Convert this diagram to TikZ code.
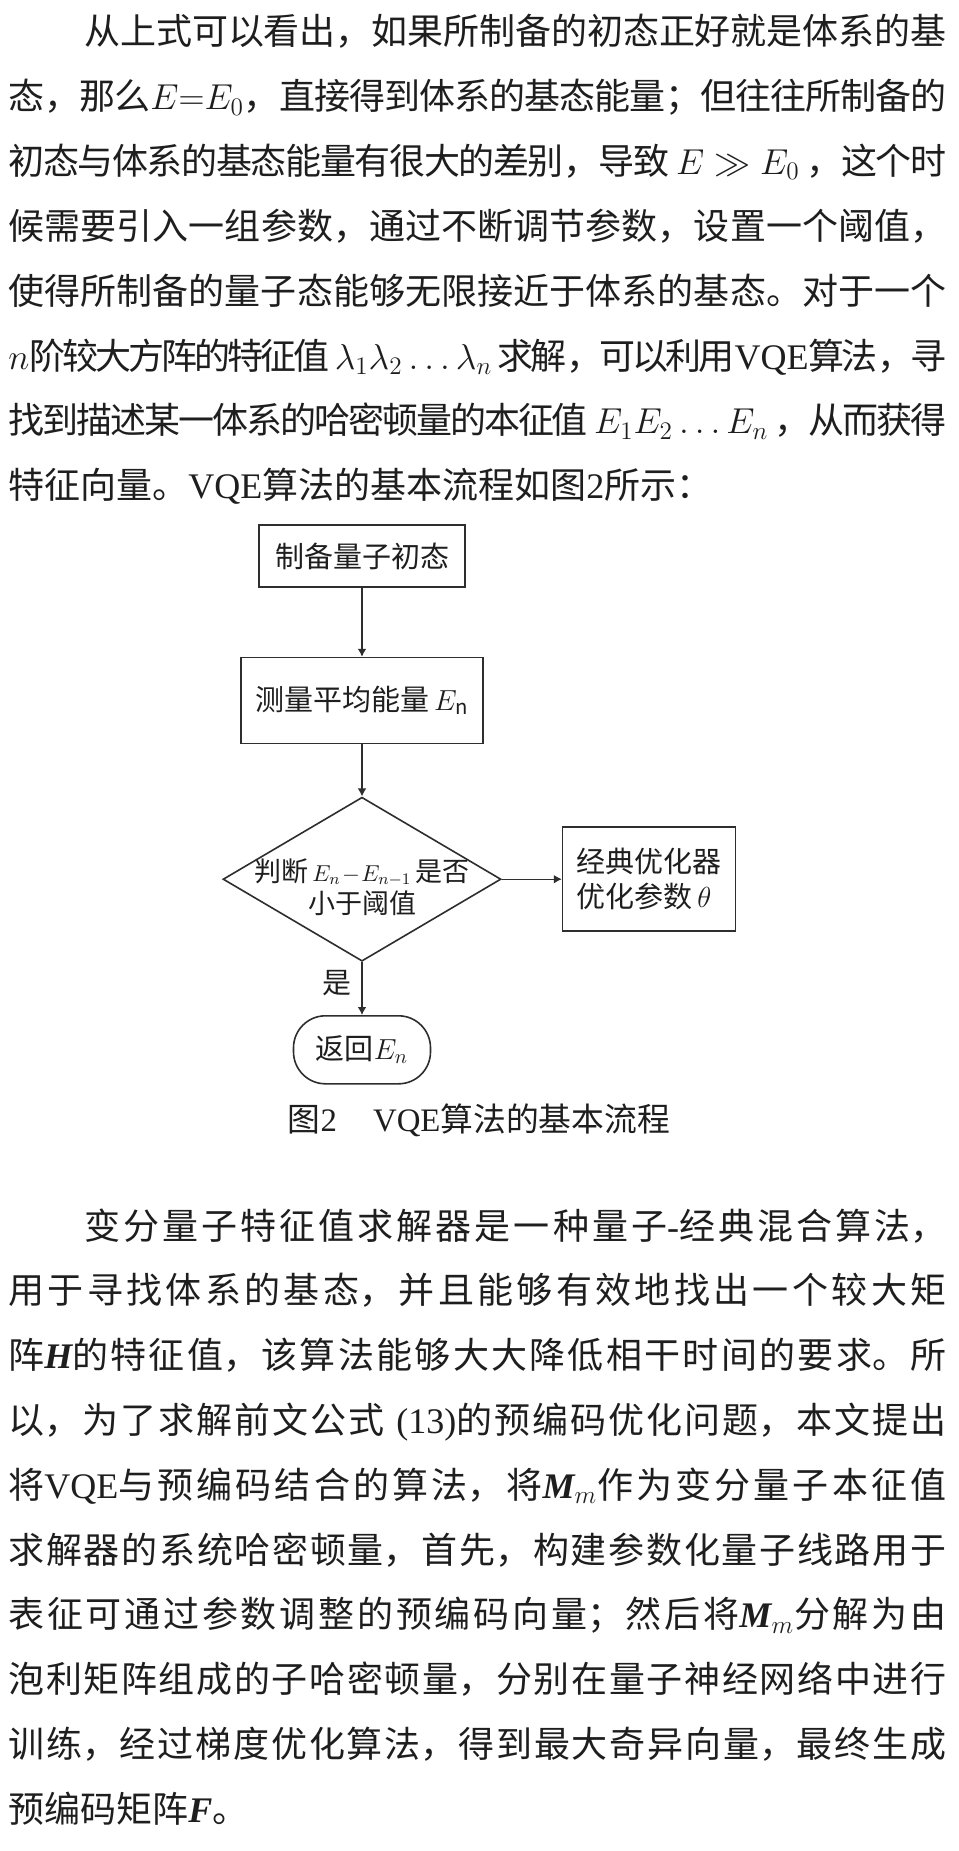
\documentclass[tikz,border=0pt]{standalone}
\usepackage{fix-cm}
\usepackage{fontspec}
\setmainfont{Noto Sans CJK SC}
\newfontfamily\lat{Liberation Serif}
\usepackage{tikz}
\usetikzlibrary{positioning, shapes.geometric, arrows.meta}
\XeTeXlinebreaklocale "zh"
\XeTeXlinebreakskip=0pt plus 1pt minus 1.5pt
\definecolor{inkColor}{HTML}{1E1E1E}
\definecolor{lineColor}{HTML}{2E2E2E}
\newcommand\fullline[1]{\parbox[t]{469pt}{\parfillskip=0pt \tolerance=10000 \XeTeXlinebreakpenalty=10000 \relpenalty=10000 \binoppenalty=10000 \noindent #1}}
\newcommand\lastline[1]{\parbox[t]{469pt}{\XeTeXlinebreakpenalty=10000 \noindent #1}}
\newcommand\bmit[1]{{\lat\bfseries\itshape #1}}

\begin{document}
\begin{tikzpicture}[
  x=0.5pt, y=-0.5pt,
  node distance=15pt,
  txtln/.style={
    inner sep=0pt,
    text height=13pt,
    text depth=4pt,
    text=inkColor,
    font=\fontsize{18}{20}\selectfont
  },
  procbox/.style={
    rectangle,
    draw=lineColor,
    line width=0.8pt,
    inner sep=3pt,
    text=inkColor,
    font=\fontsize{14.5}{17.5}\selectfont
  },
  decbox/.style={
    diamond,
    draw=lineColor,
    line width=0.8pt,
    inner sep=0pt,
    minimum width=139pt,
    minimum height=82pt,
    text height=20pt,
    text depth=18pt,
    text=inkColor,
    font=\fontsize{13.5}{16}\selectfont
  },
  retbox/.style={
    rectangle,
    rounded corners=16pt,
    draw=lineColor,
    line width=0.8pt,
    minimum width=68.5pt,
    minimum height=34pt,
    text=inkColor,
    font=\fontsize{14.5}{17.5}\selectfont
  },
  capt/.style={
    inner sep=0pt,
    text=inkColor,
    font=\fontsize{16.4}{18}\selectfont
  },
  arrow/.style={
    -{Latex[length=4pt, width=4.4pt]},
    draw=lineColor,
    line width=0.7pt
  }
]
  \fill[white] (0,0) rectangle (958,1851);
  \useasboundingbox (0,0) rectangle (958,1851);

  % First paragraph
  \node[txtln, anchor=base west] (pa) at (8,45) {\fullline{\hspace{38pt}从上式可以看出，如果所制备的初态正好就是体系的基}};
  \node[txtln, below=of pa] (pb) {\fullline{态，那么$E{=}E_0$，直接得到体系的基态能量；但往往所制备的}};
  \node[txtln, below=of pb] (pc) {\fullline{初态与体系的基态能量有很大的差别，导致~$E\gg E_0$~，这个时}};
  \node[txtln, below=of pc] (pd) {\fullline{候需要引入一组参数，通过不断调节参数，设置一个阈值，}};
  \node[txtln, below=of pd] (pe) {\fullline{使得所制备的量子态能够无限接近于体系的基态。对于一个}};
  \node[txtln, below=of pe] (pf) {\fullline{$n$阶较大方阵的特征值~$\lambda_1\lambda_2\ldots\lambda_n$~求解，可以利用{\lat VQE}算法，寻}};
  \node[txtln, below=of pf] (pg) {\fullline{找到描述某一体系的哈密顿量的本征值~$E_1E_2\ldots E_n$~，从而获得}};
  \node[txtln, below=of pg] (ph) {\lastline{特征向量。{\lat VQE}算法的基本流程如图{\lat 2}所示：}};

  % Flow chart
  \node[procbox, minimum width=103pt, minimum height=31pt] (prep) at (362,556) {制备量子初态};
  \node[procbox, minimum width=121pt, minimum height=43pt, below=34.5pt of prep] (meas) {测量平均能量$\,E_{\mathrm{n}}$};
  \node[decbox, below=26pt of meas] (judge) {\makebox[0pt]{\parbox[t]{150pt}{\centering 判断\hspace{2pt}{\fontsize{11.5}{12}\selectfont$E_n\!-\!E_{n-1}$}\hspace{2pt}是否\\小于阈值}}};
  \node[procbox, align=left, minimum width=86.5pt, minimum height=52pt, right=30pt of judge] (optim) {经典优化器\\优化参数$\,\theta$};
  \node[retbox, below=26.5pt of judge] (ret) {返回$E_n$};
  \node[capt] (cap) at (479,1120) {图{\lat 2}\hspace{18pt}{\lat VQE}算法的基本流程};

  % Connect nodes with arrows
  \draw[arrow] (prep) -- (meas);
  \draw[arrow] (meas) -- (judge);
  \draw[arrow] (judge) -- (optim);
  \draw[arrow] (judge) -- node[left=1pt, pos=0.4, inner sep=4pt, text=inkColor, font=\fontsize{14.5}{17}\selectfont] (yes) {是} (ret);

  % Second paragraph
  \node[txtln, anchor=base west] (qa) at (8,1239) {\fullline{\hspace{38pt}变分量子特征值求解器是一种量子{\lat -}经典混合算法，}};
  \node[txtln, below=of qa] (qb) {\fullline{用于寻找体系的基态，并且能够有效地找出一个较大矩}};
  \node[txtln, below=of qb] (qc) {\fullline{阵\bmit{H}的特征值，该算法能够大大降低相干时间的要求。所}};
  \node[txtln, below=of qc] (qd) {\fullline{以，为了求解前文公式~{\lat (13)}的预编码优化问题，本文提出}};
  \node[txtln, below=of qd] (qe) {\fullline{将{\lat VQE}与预编码结合的算法，将\bmit{M}$_m$作为变分量子本征值}};
  \node[txtln, below=of qe] (qf) {\fullline{求解器的系统哈密顿量，首先，构建参数化量子线路用于}};
  \node[txtln, below=of qf] (qg) {\fullline{表征可通过参数调整的预编码向量；然后将\bmit{M}$_m$分解为由}};
  \node[txtln, below=of qg] (qh) {\fullline{泡利矩阵组成的子哈密顿量，分别在量子神经网络中进行}};
  \node[txtln, below=of qh] (qi) {\fullline{训练，经过梯度优化算法，得到最大奇异向量，最终生成}};
  \node[txtln, below=of qi] (qj) {\lastline{预编码矩阵\bmit{F}。}};
\end{tikzpicture}
\end{document}
